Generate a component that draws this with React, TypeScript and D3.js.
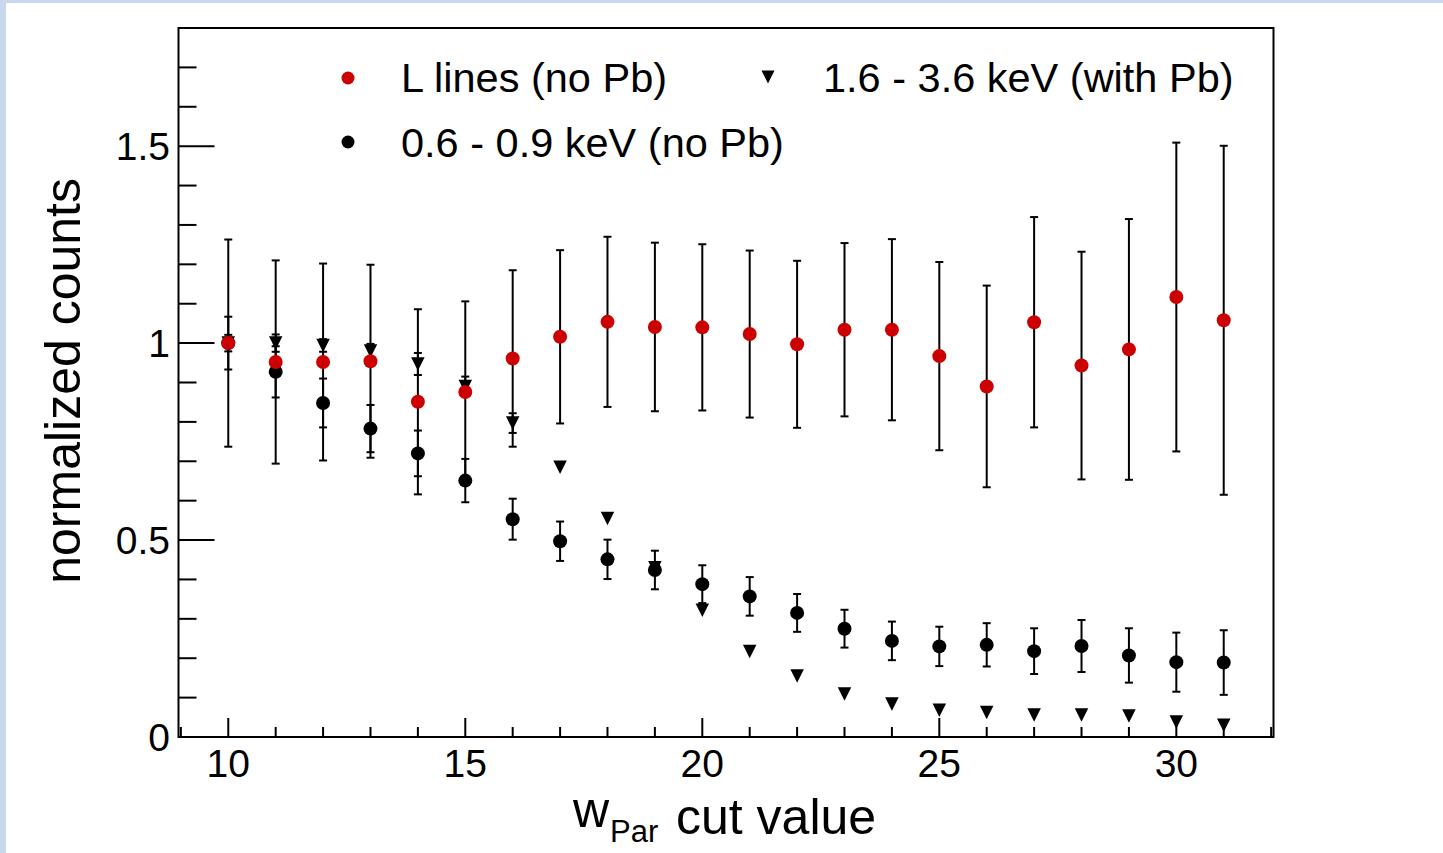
import React from "react";
import * as d3 from "d3";

// ---- data ----
const cutValues = [10, 11, 12, 13, 14, 15, 16, 17, 18, 19, 20, 21, 22, 23, 24, 25, 26, 27, 28, 29, 30, 31];

const lLines = [1.0, 0.952, 0.952, 0.954, 0.851, 0.876, 0.961, 1.016, 1.054, 1.041, 1.04, 1.023, 0.997, 1.034, 1.034, 0.967, 0.89, 1.053, 0.943, 0.984, 1.117, 1.058];
const lLinesErr = [0.263, 0.258, 0.25, 0.245, 0.235, 0.23, 0.224, 0.22, 0.216, 0.214, 0.211, 0.212, 0.212, 0.22, 0.23, 0.239, 0.256, 0.267, 0.289, 0.331, 0.392, 0.443];

const lowBand = [1.0, 0.927, 0.848, 0.783, 0.72, 0.651, 0.553, 0.497, 0.451, 0.424, 0.388, 0.357, 0.315, 0.275, 0.244, 0.23, 0.234, 0.218, 0.231, 0.207, 0.19, 0.189];
const lowBandErr = [0.067, 0.065, 0.062, 0.06, 0.058, 0.055, 0.052, 0.05, 0.05, 0.049, 0.048, 0.049, 0.048, 0.048, 0.049, 0.05, 0.055, 0.058, 0.066, 0.069, 0.075, 0.082];

const highBand = [1.0, 1.0, 0.994, 0.98, 0.947, 0.89, 0.797, 0.685, 0.555, 0.43, 0.322, 0.217, 0.155, 0.109, 0.084, 0.068, 0.062, 0.056, 0.056, 0.053, 0.038, 0.03];
const highBandErr = [0.021, 0.022, 0.016, 0.018, 0.028, 0.025, 0.025, 0.012, 0.011, 0.01, 0.008, 0.006, 0.005, 0.004, 0.003, 0.003, 0.003, 0.003, 0.003, 0.003, 0.002, 0.002];

const xMajorTicks = [10, 15, 20, 25, 30];
const yMajorTicks = [0, 0.5, 1, 1.5];
const yTickLabels = ["0", "0.5", "1", "1.5"];

const legendLabels = ["L lines (no Pb)", "1.6 - 3.6 keV (with Pb)", "0.6 - 0.9 keV (no Pb)"];

const RED = "#cc0000";
const FONT = "'Liberation Sans', Arial, Helvetica, sans-serif";

const W = 1443;
const H = 853;
const frame = { left: 178.5, right: 1273.5, top: 28, bottom: 737 };

const x = d3.scaleLinear().domain([8.95, 32.05]).range([frame.left, frame.right]);
const y = d3.scaleLinear().domain([0, 1.8]).range([frame.bottom, frame.top]);

const xMinor = d3.range(9, 33, 1).filter((v) => !xMajorTicks.includes(v));
const yMinor = d3.range(0, 18).map((i) => +(i / 10).toFixed(1)).filter((v) => !yMajorTicks.includes(v));

function ErrorBars({ vals, errs, minPx }: { vals: number[]; errs: number[]; minPx: number }) {
  return (
    <g stroke="#000" strokeWidth={2} fill="none">
      {cutValues.map((c, i) => {
        const cx = x(c);
        const y1 = y(vals[i] + errs[i]);
        const y2 = y(vals[i] - errs[i]);
        if (Math.abs(y2 - y1) / 2 < minPx) return null;
        return (
          <g key={i}>
            <line x1={cx} x2={cx} y1={y1} y2={y2} />
            <line x1={cx - 4} x2={cx + 4} y1={y1} y2={y1} />
            <line x1={cx - 4} x2={cx + 4} y1={y2} y2={y2} />
          </g>
        );
      })}
    </g>
  );
}

function triPath(cx: number, cy: number, s: number) {
  // inverted triangle, bbox centred on (cx, cy)
  return `M${cx - s / 2},${cy - s / 2}L${cx + s / 2},${cy - s / 2}L${cx},${cy + s / 2}Z`;
}

export default function App() {
  return (
    <svg
      width={W}
      height={H}
      style={{ position: "absolute", left: 0, top: 0, display: "block" }}
      fontFamily={FONT}
    >
      <rect x={0} y={0} width={W} height={H} fill="#c8d9ee" />
      <rect x={6} y={3} width={W - 6} height={H - 3} fill="#ffffff" />

      {/* frame */}
      <rect
        x={frame.left}
        y={frame.top}
        width={frame.right - frame.left}
        height={frame.bottom - frame.top}
        fill="none"
        stroke="#000"
        strokeWidth={2}
      />

      {/* ticks */}
      <g stroke="#000" strokeWidth={2}>
        {yMajorTicks.map((v) => (
          <line key={"ym" + v} x1={frame.left} x2={frame.left + 36} y1={y(v)} y2={y(v)} />
        ))}
        {yMinor.map((v) => (
          <line key={"yn" + v} x1={frame.left} x2={frame.left + 18} y1={y(v)} y2={y(v)} />
        ))}
        {xMajorTicks.map((v) => (
          <line key={"xm" + v} x1={x(v)} x2={x(v)} y1={frame.bottom} y2={frame.bottom - 19} />
        ))}
        {xMinor.map((v) => (
          <line key={"xn" + v} x1={x(v)} x2={x(v)} y1={frame.bottom} y2={frame.bottom - 10} />
        ))}
      </g>

      {/* tick labels */}
      <g fontSize={39} fill="#000">
        {yMajorTicks.map((v, i) => (
          <text key={"yl" + v} x={170} y={y(v) + 14} textAnchor="end">
            {yTickLabels[i]}
          </text>
        ))}
        {xMajorTicks.map((v) => (
          <text key={"xl" + v} x={x(v)} y={777} textAnchor="middle">
            {v}
          </text>
        ))}
      </g>

      {/* axis titles */}
      <text
        fontSize={50}
        textAnchor="end"
        transform={`translate(80,178) rotate(-90)`}
        fill="#000"
      >
        normalized counts
      </text>
      <g fill="#000">
        <text x={573} y={827} fontSize={50}>w</text>
        <text x={610} y={842} fontSize={31}>Par</text>
        <text x={676} y={834} fontSize={50}>cut value</text>
      </g>

      {/* data: triangles (with Pb) */}
      <ErrorBars vals={highBand} errs={highBandErr} minPx={5} />
      <g fill="#000">
        {cutValues.map((c, i) => (
          <path key={"t" + i} d={triPath(x(c), y(highBand[i]), 13.5)} />
        ))}
      </g>

      {/* data: black circles */}
      <ErrorBars vals={lowBand} errs={lowBandErr} minPx={7} />
      <g fill="#000">
        {cutValues.map((c, i) => (
          <circle key={"b" + i} cx={x(c)} cy={y(lowBand[i])} r={7} />
        ))}
      </g>

      {/* data: red circles */}
      <ErrorBars vals={lLines} errs={lLinesErr} minPx={7} />
      <g fill={RED}>
        {cutValues.map((c, i) => (
          <circle key={"r" + i} cx={x(c)} cy={y(lLines[i])} r={7} />
        ))}
      </g>

      {/* legend */}
      <g fontSize={41.5} fill="#000">
        <circle cx={348} cy={78} r={6.5} fill={RED} />
        <text x={401} y={92}>{legendLabels[0]}</text>
        <path d={triPath(768, 77, 13)} fill="#000" />
        <text x={823} y={92}>{legendLabels[1]}</text>
        <circle cx={348} cy={142} r={6.5} fill="#000" />
        <text x={401} y={157}>{legendLabels[2]}</text>
      </g>
    </svg>
  );
}
